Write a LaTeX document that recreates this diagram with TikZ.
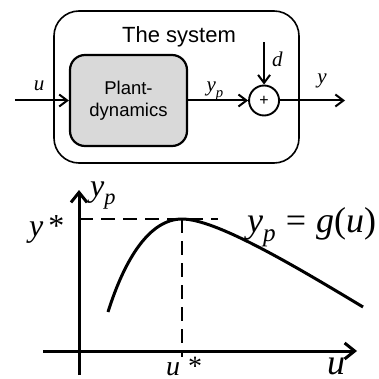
\documentclass[tikz,border=0pt]{standalone}
\usepackage{fontspec}
\setmainfont{Liberation Sans}
\newfontfamily\tms{Liberation Serif}
\usepackage{xcolor}
\usepackage{tikz}
\usetikzlibrary{arrows.meta,positioning,calc}
\definecolor{ink}{HTML}{000000}
\definecolor{plantgray}{HTML}{D9D9D9}
\newcommand{\var}[1]{{\tms\itshape #1}}
\newcommand{\psub}[1]{\raisebox{-0.25em}{\scalebox{0.7}{\tms\itshape #1}}}
\tikzset{
  sysbox/.style={rectangle, rounded corners=25pt, draw=ink, line width=1.6pt,
                 minimum width=245pt, minimum height=152pt},
  plantbox/.style={rectangle, rounded corners=15pt, draw=ink, fill=plantgray, line width=2.2pt,
                   minimum width=117pt, minimum height=91pt, align=center,
                   font=\fontsize{18.5}{22}\selectfont},
  sumnode/.style={circle, draw=ink, line width=1.9pt, minimum size=30pt, inner sep=0pt,
                  font=\fontsize{16}{16}\selectfont},
  sig/.style={-{Straight Barb[length=8pt,width=12pt]}, draw=ink, line width=2pt},
  axisline/.style={-{Straight Barb[length=10pt,width=16pt]}, draw=ink, line width=3pt},
  guide/.style={draw=ink, dash pattern=on 14pt off 8pt, line width=2pt},
  gcurve/.style={draw=ink, line width=3pt},
  sym/.style={inner sep=0pt, anchor=base, font=\fontsize{21}{21}\selectfont},
  bigsym/.style={inner sep=0pt, anchor=base west, font=\fontsize{32}{32}\selectfont},
}
\begin{document}
\begin{tikzpicture}[x=1pt,y=1pt]
\clip (0,0) rectangle (379,378);
% block diagram
\node[sysbox] (sys) at (176.5,291) {};
\node[inner sep=0pt, anchor=base, font=\fontsize{22}{22}\selectfont] (title) at (179,335) {The system};
\node[plantbox] (plant) at (128.5,277.5) {Plant-\\dynamics};
\node[sumnode, right=60pt of plant] (sum) {+};
\coordinate[left=54pt of plant] (uin);
\coordinate[right=65pt of sum] (yout);
\coordinate[above=42.5pt of sum] (din);
\draw[sig] (uin) -- (plant);
\draw[sig] (plant) -- (sum);
\draw[sig] (din) -- (sum);
\draw[sig] (sum) -- (yout);
\node[sym] (lblu) at (39,287) {\var{u}};
\node[sym] (lblyp) at (215,286) {\var{y}\psub{p}};
\node[sym, anchor=base west] (lbld) at (272,311) {\var{d}};
\node[sym] (lbly) at (322,294) {\var{y}};
% static map
\coordinate (orig) at (79,27);
\coordinate (peak) at (182,159);
\coordinate (cstart) at (108,66);
\coordinate (cend) at (363,71);
\draw[guide] (orig |- peak) -- (218,159);
\draw[guide] (peak) -- (182,21);
\draw[axisline] (79,3) -- (79,188);
\draw[axisline] (43,27) -- (357,27);
\draw[gcurve] (cstart) .. controls (125,120) and (150,159) .. (peak)
                       .. controls (215,159) and (290,115) .. (cend);
\node[bigsym] (lblystar) at (29,142) {\var{y}\kern5pt{\tms *}};
\node[bigsym] (lblyaxis) at (90,182) {\var{y}\psub{p}};
\node[bigsym, font=\fontsize{28}{28}\selectfont] (lblustar) at (166,3) {\var{u}\kern8pt{\tms *}};
\node[bigsym, font=\fontsize{36}{36}\selectfont] (lbluaxis) at (327,4) {\var{u}};
\node[bigsym, font=\fontsize{36}{36}\selectfont] (lblmap) at (247,146)
  {\var{y}\psub{p} {\tms =} \var{g}{\tms (}\var{u}{\tms )}};
\end{tikzpicture}
\end{document}
